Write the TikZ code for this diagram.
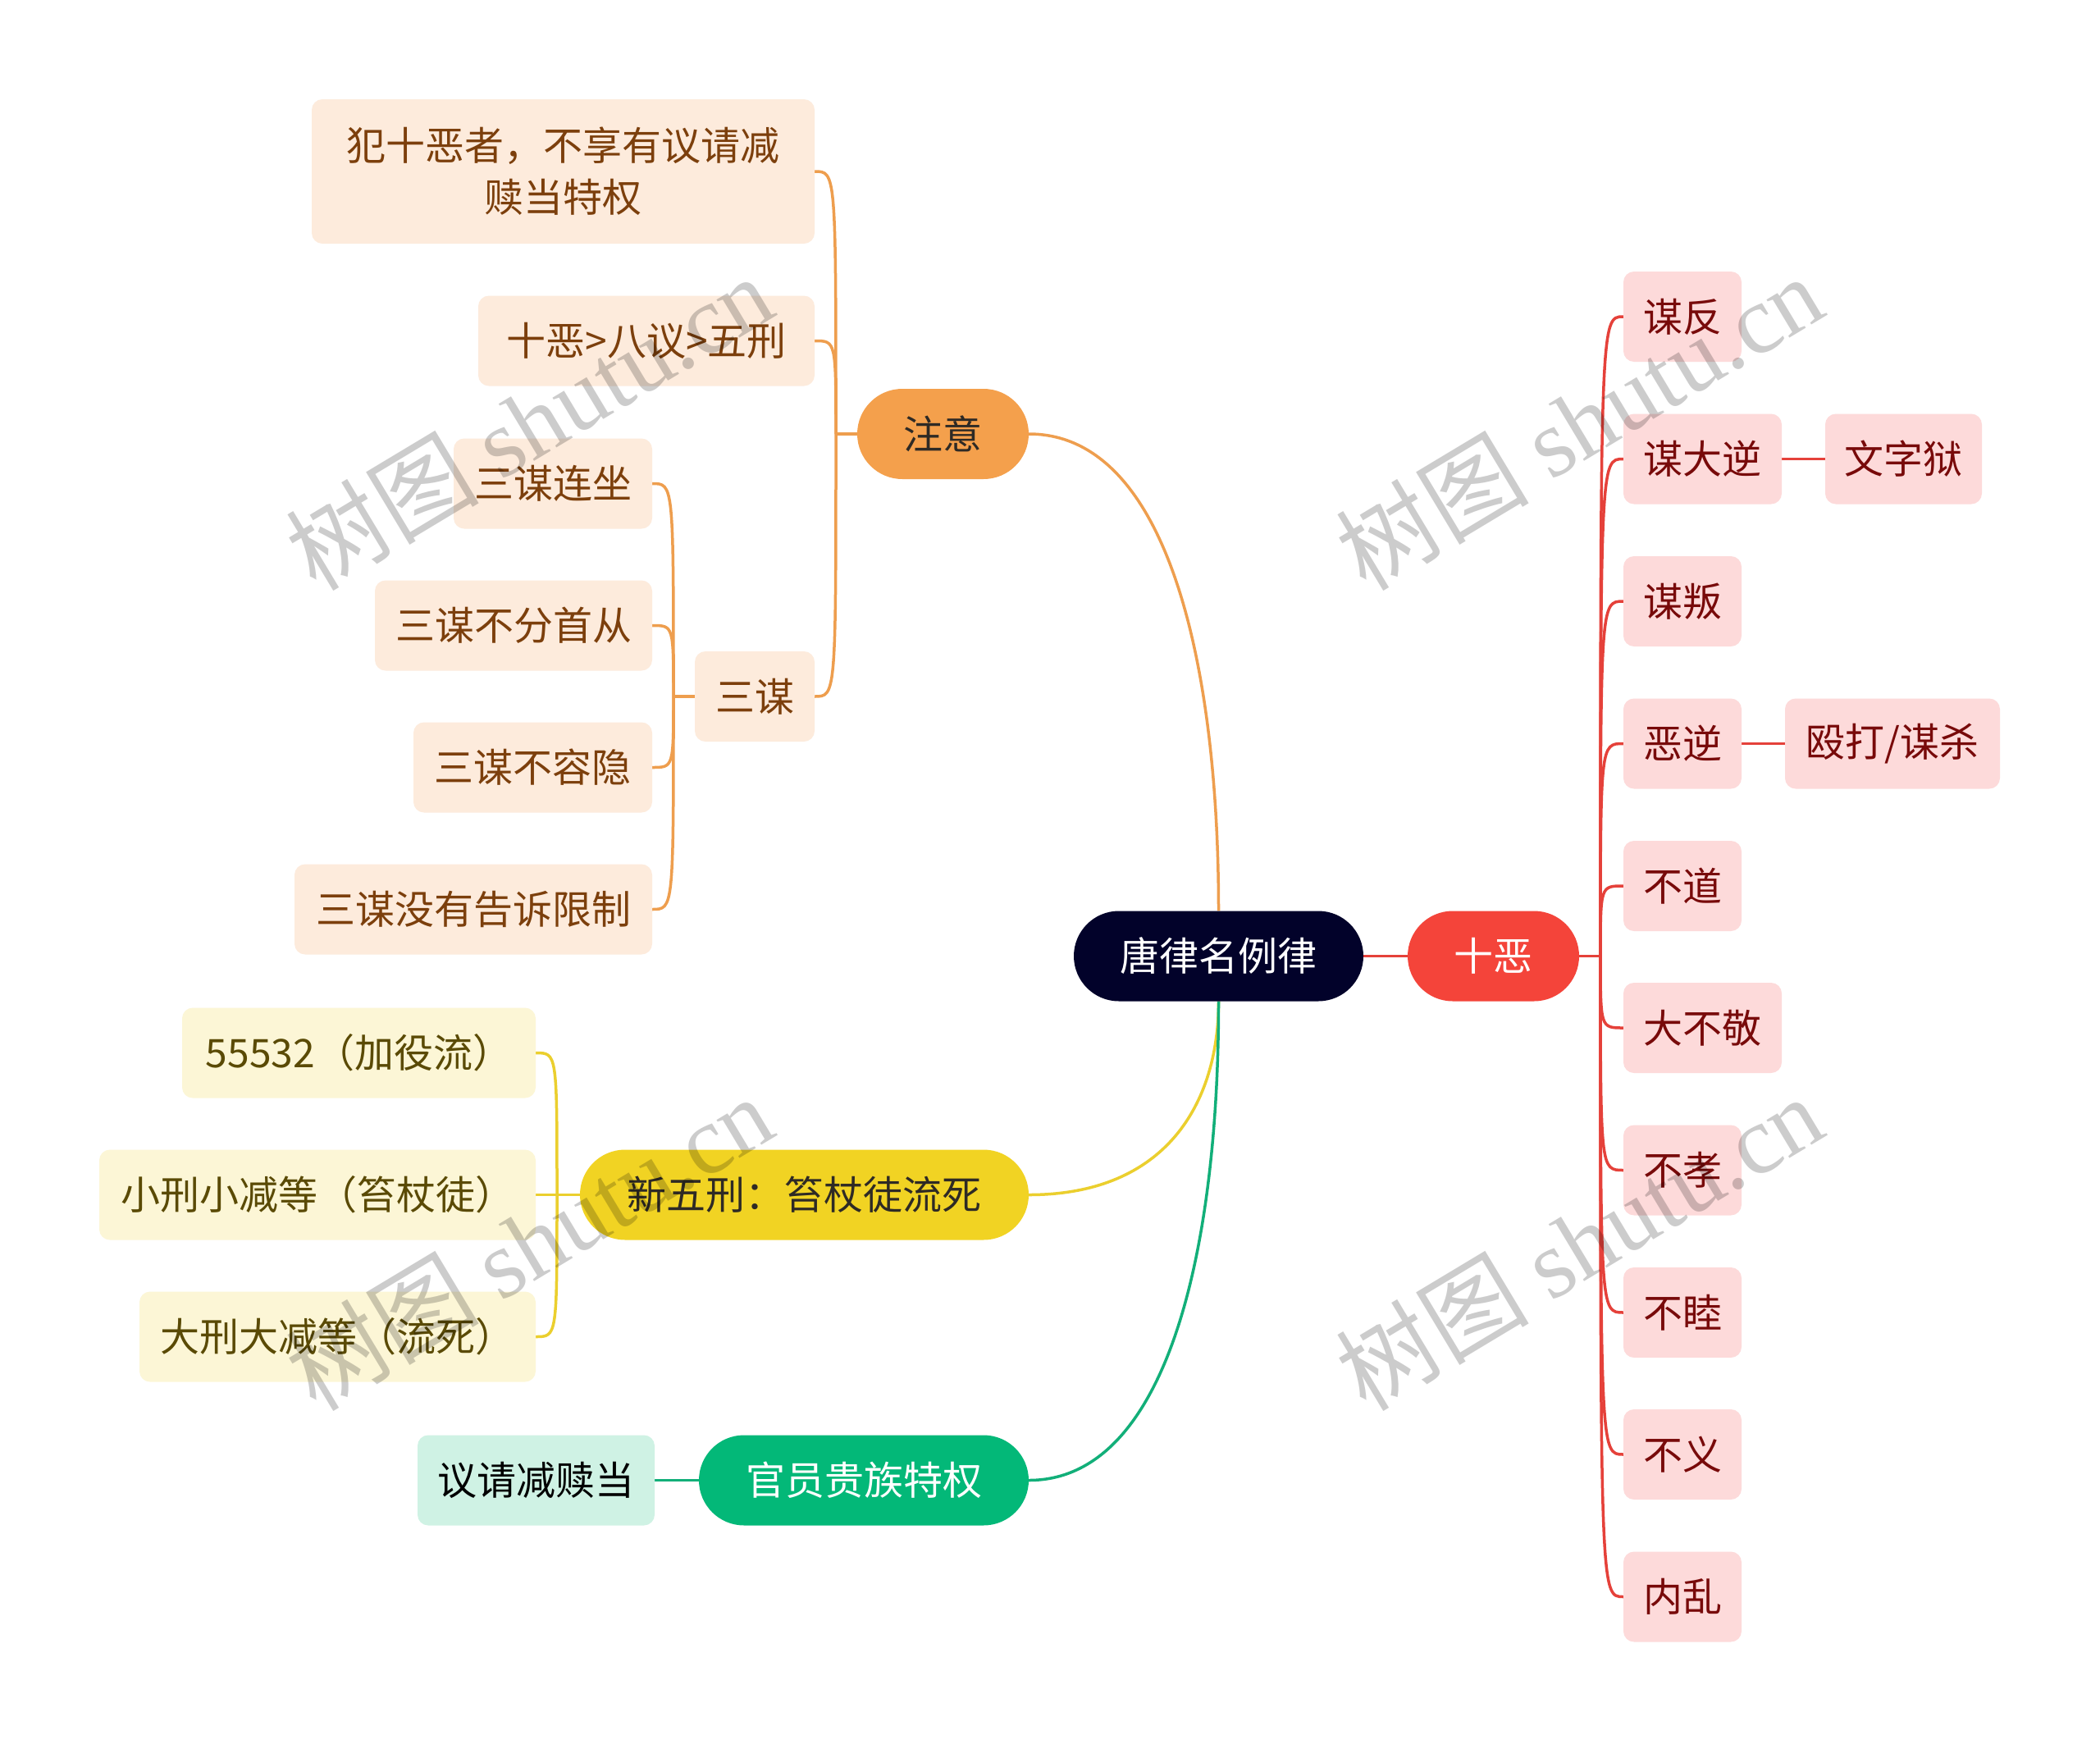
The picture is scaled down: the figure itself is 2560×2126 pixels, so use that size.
\documentclass[tikz,border=0pt]{standalone}
\usepackage{fontspec}
\setmainfont{Noto Sans CJK SC}
\newfontfamily\wmlatin{Liberation Serif}
\usetikzlibrary{calc,backgrounds}
\definecolor{rootc}{HTML}{02022A}
\definecolor{redc}{HTML}{F4443A}
\definecolor{redline}{HTML}{E5413A}
\definecolor{pinkc}{HTML}{FDDADA}
\definecolor{redtxt}{HTML}{780A0A}
\definecolor{orc}{HTML}{F4A04C}
\definecolor{orline}{HTML}{EE9E4E}
\definecolor{orlight}{HTML}{FDEBDC}
\definecolor{ortxt}{HTML}{7C3F0C}
\definecolor{ortop}{HTML}{2E2A25}
\definecolor{yc}{HTML}{F1D323}
\definecolor{yline}{HTML}{EBCF2E}
\definecolor{ylight}{HTML}{FCF6D6}
\definecolor{ytxt}{HTML}{5A4A05}
\definecolor{gc}{HTML}{03B878}
\definecolor{gline}{HTML}{12AF79}
\definecolor{glight}{HTML}{CFF2E4}
\tikzset{
  base/.style={inner sep=0pt, minimum height=110pt, font=\fontsize{48}{63}\selectfont, align=center},
  pill/.style={base, rounded corners=55pt},
  leaf/.style={base, rounded corners=13pt},
  redleaf/.style={leaf, fill=pinkc, text=redtxt},
  orleaf/.style={leaf, fill=orlight, text=ortxt},
  yleaf/.style={leaf, fill=ylight, text=ytxt},
  conn/.style={line width=3.5pt},
  wm/.style={rotate=31, text=black, text opacity=0.2, font=\fontsize{118}{118}\selectfont},
}
\begin{document}
\begin{tikzpicture}[x=1pt,y=-1pt]
\useasboundingbox (0,0) rectangle (2560,2126);

% main nodes
\node[pill, fill=rootc, text=white, minimum width=353pt] (root) at (1485.5,1165.5) {唐律名例律};
\node[pill, fill=redc, text=white, minimum width=209pt] (sx) at (1820.5,1165.5) {十恶};
\node[pill, fill=orc, text=ortop, minimum width=209pt] (zy) at (1149.5,529) {注意};
\node[pill, fill=yc, text=ortop, minimum width=547pt] (xwx) at (980.5,1456.5) {新五刑：笞杖徒流死};
\node[pill, fill=gc, text=white, minimum width=402pt] (gy) at (1053,1804.5) {官员贵族特权};

% right side
\node[redleaf, minimum width=144pt] (r1) at (2051,386) {谋反};
\node[redleaf, minimum width=193pt] (r2) at (2075.5,559.5) {谋大逆};
\node[redleaf, minimum width=144pt] (r3) at (2051,733) {谋叛};
\node[redleaf, minimum width=144pt] (r4) at (2051,906.5) {恶逆};
\node[redleaf, minimum width=144pt] (r5) at (2051,1080) {不道};
\node[redleaf, minimum width=193pt] (r6) at (2075.5,1253) {大不敬};
\node[redleaf, minimum width=144pt] (r7) at (2051,1426.5) {不孝};
\node[redleaf, minimum width=144pt] (r8) at (2051,1600) {不睦};
\node[redleaf, minimum width=144pt] (r9) at (2051,1773) {不义};
\node[redleaf, minimum width=144pt] (r10) at (2051,1946.5) {内乱};
\node[redleaf, minimum width=191pt] (wzy) at (2320.5,559.5) {文字狱};
\node[redleaf, minimum width=262pt] (od) at (2307,906.5) {殴打/谋杀};

% orange side
\node[orleaf, minimum width=613pt, minimum height=176pt] (o1) at (686.5,209) {犯十恶者，不享有议请减\\赎当特权};
\node[orleaf, minimum width=410pt] (o2) at (788,415.5) {十恶>八议>五刑};
\node[orleaf, minimum width=146pt] (sm) at (920,849) {三谋};
\node[orleaf, minimum width=242pt] (s1) at (674,589.5) {三谋连坐};
\node[orleaf, minimum width=338pt] (s2) at (626,762.5) {三谋不分首从};
\node[orleaf, minimum width=291pt] (s3) at (649.5,935.5) {三谋不容隐};
\node[orleaf, minimum width=436pt] (s4) at (577,1108.5) {三谋没有告诉限制};

% yellow side
\node[yleaf, minimum width=431pt] (y1) at (437.5,1283.5) {55532（加役流）};
\node[yleaf, minimum width=532pt] (y2) at (387,1456.5) {小刑小减等（笞杖徒）};
\node[yleaf, minimum width=483pt] (y3) at (411.5,1629.5) {大刑大减等（流死）};

% green side
\node[leaf, fill=glight, text=black, minimum width=289pt] (g1) at (653.5,1804.5) {议请减赎当};

% junction points
\coordinate (jr) at (1951,1165.5);
\coordinate (jo) at (1019,529);
\coordinate (js) at (821,849);
\coordinate (jy) at (679,1456.5);

\begin{scope}[on background layer]
\fill[white] (0,0) rectangle (2560,2126);
% root to main branches
\draw[conn, redline] (root.east) -- (sx.west);
\draw[conn, orline] (root.north) .. controls ($(root.north)!0.53!(root.north |- zy.east)$) and ($(zy.east)!0.72!(zy.east -| root.north)$) .. (zy.east);
\draw[conn, yline] (root.south) .. controls ($(root.south)!0.53!(root.south |- xwx.east)$) and ($(xwx.east)!0.72!(xwx.east -| root.south)$) .. (xwx.east);
\draw[conn, gline] (root.south) .. controls ($(root.south)!0.53!(root.south |- gy.east)$) and ($(gy.east)!0.72!(gy.east -| root.south)$) .. (gy.east);
% ten evils
\draw[conn, redline] (sx.east) -- (jr);
\foreach \c in {r1,r2,r3,r4,r5,r6,r7,r8,r9,r10}
  \draw[conn, redline] (jr) .. controls (jr |- \c.west) and (jr |- \c.west) .. (\c.west);
\draw[conn, redline] (r2.east) -- (wzy.west);
\draw[conn, redline] (r4.east) -- (od.west);
% notes
\draw[conn, orline] (zy.west) -- (jo);
\foreach \c in {o1,o2,sm}
  \draw[conn, orline] (jo) .. controls (jo |- \c.east) and (jo |- \c.east) .. (\c.east);
\draw[conn, orline] (sm.west) -- (js);
\foreach \c in {s1,s2,s3,s4}
  \draw[conn, orline] (js) .. controls (js |- \c.east) and (js |- \c.east) .. (\c.east);
% five punishments
\draw[conn, yline] (xwx.west) -- (jy);
\foreach \c in {y1,y2,y3}
  \draw[conn, yline] (jy) .. controls (jy |- \c.east) and (jy |- \c.east) .. (\c.east);
% privileges
\draw[conn, gline] (gy.west) -- (g1.east);
\end{scope}

% watermarks
\node[wm] (wm1) at (645,514) {树图 {\wmlatin shutu.cn}};
\node[wm] (wm2) at (1925,514) {树图 {\wmlatin shutu.cn}};
\node[wm] (wm3) at (645,1514) {树图 {\wmlatin shutu.cn}};
\node[wm] (wm4) at (1925,1514) {树图 {\wmlatin shutu.cn}};
\end{tikzpicture}
\end{document}
